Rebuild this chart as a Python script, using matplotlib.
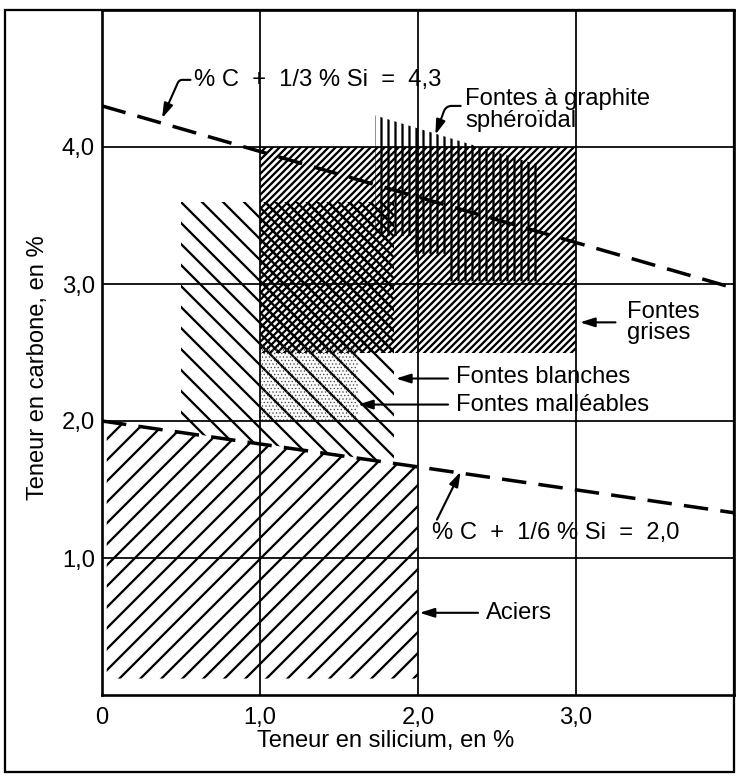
import matplotlib
matplotlib.use('Agg')
import matplotlib.pyplot as plt
from matplotlib.patches import Polygon, Rectangle

plt.rcParams['font.family'] = ['Liberation Sans', 'DejaVu Sans']
plt.rcParams['hatch.linewidth'] = 1.3
plt.rcParams['hatch.color'] = 'black'

# ---------------- data (Si %, C %) ----------------
x_ticks = [0, 1, 2, 3]
x_tick_labels = ['0', '1,0', '2,0', '3,0']
y_ticks = [1, 2, 3, 4]
y_tick_labels = ['1,0', '2,0', '3,0', '4,0']

line1_si = [0.0, 4.0]
line1_c = [4.3, 2.97]
line2_si = [0.0, 4.0]
line2_c = [2.0, 1.33]

aciers_si = [0.03, 2.0, 2.0, 0.03]
aciers_c = [0.12, 0.12, 1.67, 1.995]
blanches_si = [0.5, 0.5, 1.85, 1.85]
blanches_c = [1.917, 3.6, 3.6, 1.69]
grises_si = [1.0, 3.0, 3.0, 1.0]
grises_c = [2.5, 2.5, 4.0, 4.0]
overlap_si = [1.0, 1.85, 1.85, 1.0]
overlap_c = [2.5, 2.5, 3.6, 3.6]
malleables_si = [1.0, 1.62, 1.62, 1.0]
malleables_c = [2.0, 2.0, 2.55, 2.55]
spheroidal_si = [1.73, 1.97, 1.97, 2.2, 2.2, 2.76, 2.76, 1.73]
spheroidal_c = [3.35, 3.35, 3.22, 3.22, 3.02, 3.02, 3.87, 4.23]

eq1_label = '% C  +  1/3 % Si  =  4,3'
eq2_label = '% C  +  1/6 % Si  =  2,0'

# ---------------- figure ----------------
DPI = 126
fig = plt.figure(figsize=(749 / DPI, 779 / DPI), dpi=DPI)
ax = fig.add_axes([102 / 749, 84 / 779, (734 - 102) / 749, (695 - 10) / 779])
ax.set_xlim(0, 4.0)
ax.set_ylim(0, 5.0)

FS = 13.6

def region(si, c, hatch, color='black', z=2, hlw=None):
    p = Polygon(list(zip(si, c)), closed=True, facecolor='none',
                edgecolor=color, linewidth=0, hatch=hatch, zorder=z)
    if hlw is not None and hasattr(p, 'set_hatch_linewidth'):
        p.set_hatch_linewidth(hlw)
    ax.add_patch(p)

region(aciers_si, aciers_c, '//')
region(blanches_si, blanches_c, '\\\\')
region(grises_si, grises_c, '//////')
region(overlap_si, overlap_c, '\\\\\\\\')
region(malleables_si, malleables_c, '......', color='0.3', hlw=0.45)
region(spheroidal_si, spheroidal_c, '|||')

ax.plot(line1_si, line1_c, color='black', lw=2.0, dashes=(7, 3.5), zorder=5)
ax.plot(line2_si, line2_c, color='black', lw=2.0, dashes=(7, 3.5), zorder=5)

ax.set_xticks(x_ticks)
ax.set_xticklabels(x_tick_labels, fontsize=FS)
ax.set_yticks(y_ticks)
ax.set_yticklabels(y_tick_labels, fontsize=FS)
ax.tick_params(length=0)
ax.tick_params(axis='x', pad=7)
ax.tick_params(axis='y', pad=4)
ax.grid(True, color='black', lw=1.0)
ax.set_axisbelow(False)
for s in ax.spines.values():
    s.set_linewidth(1.5)

fig.text(386 / 749, (779 - 741) / 779, 'Teneur en silicium, en %', fontsize=FS,
         ha='center', va='center')
fig.text(38 / 749, (779 - 368) / 779, 'Teneur en carbone, en %', fontsize=FS,
         ha='center', va='center', rotation=90)

fig.patches.append(Rectangle((5 / 749, 7 / 779), (734 - 5) / 749, (772 - 10) / 779,
                             transform=fig.transFigure, fill=False,
                             edgecolor='black', lw=1.3))

akw = dict(arrowstyle='-|>,head_length=0.7,head_width=0.22', color='black',
           lw=1.2, mutation_scale=10, shrinkA=0, shrinkB=0)

ax.text(0.58, 4.49, eq1_label, fontsize=FS, ha='left', va='center')
ax.annotate('', xy=(0.38, 4.21), xytext=(0.56, 4.49),
            arrowprops=dict(**akw, connectionstyle='angle,angleA=180,angleB=66,rad=3'))

ax.text(2.30, 4.27, 'Fontes à graphite\nsphéroïdal', fontsize=FS, ha='left',
        va='center', linespacing=0.95)
ax.annotate('', xy=(2.11, 4.09), xytext=(2.27, 4.30),
            arrowprops=dict(**akw, connectionstyle='angle,angleA=180,angleB=70,rad=6'))

ax.text(3.32, 2.72, 'Fontes\ngrises', fontsize=FS, ha='left', va='center',
        linespacing=0.95)
ax.annotate('', xy=(3.025, 2.72), xytext=(3.25, 2.72), arrowprops=akw)

ax.text(2.24, 2.32, 'Fontes blanches', fontsize=FS, ha='left', va='center')
ax.annotate('', xy=(1.86, 2.31), xytext=(2.19, 2.31), arrowprops=akw)

ax.text(2.24, 2.12, 'Fontes malléables', fontsize=FS, ha='left', va='center')
ax.annotate('', xy=(1.62, 2.12), xytext=(2.19, 2.12), arrowprops=akw)

ax.text(2.09, 1.18, eq2_label, fontsize=FS, ha='left', va='center')
ax.annotate('', xy=(2.27, 1.63), xytext=(2.12, 1.28), arrowprops=akw)

ax.text(2.43, 0.60, 'Aciers', fontsize=FS, ha='left', va='center')
ax.annotate('', xy=(2.01, 0.60), xytext=(2.38, 0.60), arrowprops=akw)

fig.savefig('out.png', dpi=DPI, facecolor='white')
